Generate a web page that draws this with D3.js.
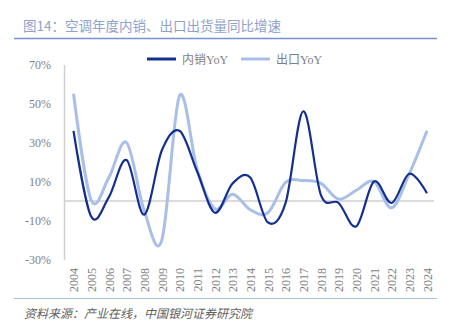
<!DOCTYPE html>
<html><head><meta charset="utf-8">
<script src="https://cdn.jsdelivr.net/npm/d3@7"></script>
<style>html,body{margin:0;padding:0;background:#fff;}svg{display:block;}</style>
</head><body>
<svg id="c" width="461" height="329"></svg>
<script>
const years = ["2004","2005","2006","2007","2008","2009","2010","2011","2012","2013","2014","2015","2016","2017","2018","2019","2020","2021","2022","2023","2024"];
const domesticYoY = [36, -8, 2, 21, -7, 26, 36, 15, -6, 9, 12, -11, -1, 46, 3, -1, -13, 10, -1, 14, 4];
const exportYoY = [55, 0.5, 12, 30, -5, -20, 54, 16, -4, 3.5, -4.5, -6, 9.5, 10.5, 9, 1, 5.5, 10, -3.5, 14, 36];
const yTicks = [-30, -10, 10, 30, 50, 70];
const seriesNames = ["内销YoY", "出口YoY"];
const seriesColors = ["#14308f", "#a9bfe8"];

const svg = d3.select("#c");
const serif = "'Liberation Serif','Noto Sans CJK SC',serif";
const cjk = "'Noto Sans CJK SC','Noto Sans',sans-serif";

// title
svg.append("text").attr("x", 23).attr("y", 31).attr("font-family", cjk).attr("font-size", 13.5)
  .attr("fill", "#8fa2cc").text("图14：空调年度内销、出口出货量同比增速");
svg.append("line").attr("x1", 14).attr("x2", 437).attr("y1", 38.5).attr("y2", 38.5)
  .attr("stroke", "#7393d3").attr("stroke-width", 1.5);

const x = d3.scalePoint().domain(years).range([73.5, 427]);
const y = d3.scaleLinear().domain([-30, 70]).range([259.5, 64.5]);

// y axis
const yAxis = svg.append("g").attr("transform", "translate(64,0)")
  .call(d3.axisLeft(y).tickValues(yTicks).tickFormat(d => d + "%").tickSize(0).tickPadding(13));
yAxis.select(".domain").attr("stroke", "#cfcfcf").attr("stroke-width", 1.5);
yAxis.selectAll("text").attr("font-family", serif).attr("font-size", 12).attr("fill", "#7f7f7f");

// zero line
svg.append("line").attr("x1", 64).attr("x2", 434).attr("y1", y(0)).attr("y2", y(0))
  .attr("stroke", "#cfcfcf").attr("stroke-width", 1.5);

// x axis labels
const xAxis = svg.append("g").attr("transform", "translate(0,262)")
  .call(d3.axisBottom(x).tickSize(0).tickPadding(0));
xAxis.select(".domain").remove();
xAxis.selectAll("text").attr("font-family", serif).attr("font-size", 12).attr("fill", "#7f7f7f")
  .attr("transform", "rotate(-90)").attr("text-anchor", "end").attr("dx", "-6").attr("dy", "0.35em").attr("y", 0).attr("x", 0);

// lines
const line = d3.line().x((d, i) => x(years[i])).y(d => y(d)).curve(d3.curveCardinal.tension(0));
svg.append("path").datum(exportYoY).attr("d", line).attr("fill", "none")
  .attr("stroke", seriesColors[1]).attr("stroke-width", 3);
svg.append("path").datum(domesticYoY).attr("d", line).attr("fill", "none")
  .attr("stroke", seriesColors[0]).attr("stroke-width", 2.2);

// legend
const legX = [147, 241];
seriesNames.forEach((n, i) => {
  svg.append("line").attr("x1", legX[i]).attr("x2", legX[i] + 29).attr("y1", 59).attr("y2", 59)
    .attr("stroke", seriesColors[i]).attr("stroke-width", 3);
  svg.append("text").attr("x", legX[i] + 35).attr("y", 63.5).attr("font-family", serif)
    .attr("font-size", 12).attr("fill", "#7f7f7f").text(n);
});

// bottom line + source
svg.append("line").attr("x1", 14).attr("x2", 437).attr("y1", 298.5).attr("y2", 298.5)
  .attr("stroke", "#a9bde2").attr("stroke-width", 1.2);
svg.append("text").attr("x", 24).attr("y", 318).attr("font-family", cjk).attr("font-size", 12)
  .attr("font-style", "italic").attr("fill", "#606060").text("资料来源：产业在线，中国银河证券研究院");
</script>
</body></html>
